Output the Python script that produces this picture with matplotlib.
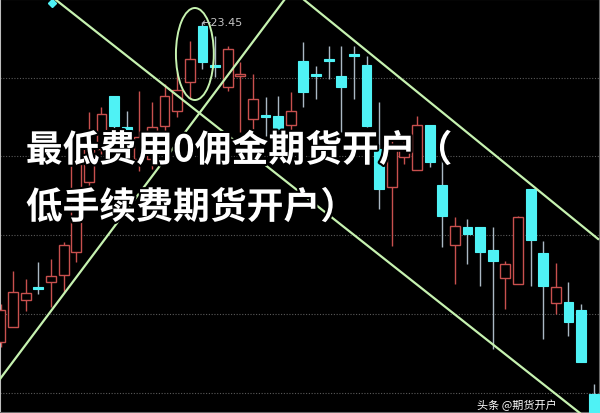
import numpy as np
import matplotlib
matplotlib.use("Agg")
import matplotlib.pyplot as plt
from matplotlib.patches import Ellipse
import matplotlib.patheffects as pe

# daily candles (price scale anchored on the 23.45 high)
opens = [20.25, 20.40, 20.67, 20.80, 20.85, 20.92, 21.15, 21.85, 22.18, 22.71,
         22.40, 22.08, 22.08, 22.41, 22.56, 22.85, 23.41, 23.02, 22.80, 22.91,
         22.48, 22.52, 22.51, 22.42, 23.06, 22.93, 23.08, 22.91, 23.13, 23.02,
         22.18, 21.80, 22.10, 21.97, 22.42, 21.82, 21.22, 21.40, 21.40, 21.17,
         20.89, 20.83, 21.78, 21.14, 20.64, 20.65, 20.57, 19.73]
closes = [20.57, 20.75, 20.74, 20.78, 20.91, 21.22, 22.03, 22.23, 22.53, 22.41,
          22.28, 22.30, 22.40, 22.71, 22.77, 23.08, 23.05, 23.00, 23.18, 22.93,
          22.68, 22.50, 22.38, 22.56, 22.75, 22.91, 23.06, 22.80, 23.11, 22.41,
          21.78, 22.20, 22.20, 22.42, 22.05, 21.51, 21.41, 21.33, 21.15, 21.06,
          21.03, 21.50, 21.27, 20.81, 20.80, 20.45, 20.05, 19.43]
highs = [20.63, 20.96, 20.88, 21.05, 21.08, 21.25, 22.18, 22.55, 22.60, 22.71,
         22.56, 22.76, 22.65, 22.83, 22.95, 23.26, 23.45, 23.31, 23.21, 23.05,
         22.93, 22.70, 22.71, 22.75, 23.25, 23.01, 23.21, 23.21, 23.21, 23.11,
         22.65, 22.28, 22.26, 22.51, 22.42, 22.13, 21.50, 21.48, 21.40, 21.40,
         21.06, 21.51, 21.78, 21.26, 21.04, 20.85, 20.63, 19.83]
lows = [20.20, 20.40, 20.56, 20.73, 20.60, 20.75, 21.05, 21.76, 22.13, 22.38,
        22.23, 21.96, 21.98, 22.33, 22.50, 22.68, 22.98, 22.90, 22.76, 22.35,
        22.38, 22.31, 22.35, 22.33, 22.60, 22.68, 22.88, 22.35, 22.68, 22.40,
        21.58, 21.21, 22.03, 21.97, 22.00, 21.20, 20.83, 21.03, 20.81, 20.18,
        20.58, 20.83, 20.81, 20.28, 20.53, 20.31, 20.05, 19.43]

grid_levels = [22.89, 22.11, 21.32, 20.53, 19.74]

# hand drawn trend lines: (index, price) end points
line_down_low = [(4.3, 23.68), (45.9, 19.54)]
line_up = [(-0.04, 19.88), (22.54, 23.68)]
line_down_high = [(23.97, 23.68), (47.35, 21.28)]
circle_center = (15.4, 23.13)
high_label = "23.45"

title1 = "最低费用0佣金期货开户（"
title2 = "低手续费期货开户）"
watermark = "头条 @期货开户"

red = "#c8504e"
cyan = "#4ff2f5"
green = "#c6f2b0"

fig = plt.figure(figsize=(6, 4.14), dpi=100, facecolor="black")
ax = fig.add_axes([0, 0, 1, 1])
ax.set_facecolor("black")
ax.set_xlim(-0.04, 47.5)
ax.set_ylim(19.54, 23.68)
ax.set_xticks([])
ax.set_yticks([])
for side, sp in ax.spines.items():
    sp.set_color("#bdbdbd" if side == "left" else "#6a6a6a")
    sp.set_linewidth(1.5)

for g in grid_levels:
    ax.axhline(g, color="#5a5a5a", lw=0.8, ls=(0, (1, 1.5)), zorder=1)

o = np.array(opens)
c = np.array(closes)
h = np.array(highs)
l = np.array(lows)
idx = np.arange(len(o))
up = c > o

ax.vlines(idx[up], l[up], h[up], color=red, lw=1, zorder=2)
ax.vlines(idx[~up], l[~up], h[~up], color="#aab8c4", lw=1, zorder=2)

body_lo = np.minimum(o, c)
body_h = np.maximum(np.abs(c - o), 0.02)
ax.bar(idx[up], body_h[up], bottom=body_lo[up], width=0.78,
       facecolor="black", edgecolor=red, lw=1, zorder=3)
ax.bar(idx[~up], body_h[~up], bottom=body_lo[~up], width=0.78,
       facecolor=cyan, edgecolor=cyan, lw=0.8, zorder=3)

for seg in (line_down_low, line_up, line_down_high):
    xs, ys = zip(*seg)
    ax.plot(xs, ys, color=green, lw=1.6, zorder=4)

ax.add_patch(Ellipse(circle_center, 3.0, 0.92, fill=False,
                     edgecolor=green, lw=1.4, zorder=4))

ax.text(15.95, 23.45, "\u2190" + high_label, color="#c4c4c4", fontsize=8,
        va="center", ha="left", zorder=5)
ax.plot([4.08], [23.64], marker="D", ms=4, color=cyan, zorder=5)

stroke = [pe.withStroke(linewidth=3, foreground="black")]
fam = ["Noto Sans CJK SC", "DejaVu Sans"]
fig.text(0.043, 0.633, title1, color="white", fontsize=26.5, fontweight="bold",
         family=fam, va="center", ha="left", path_effects=stroke)
fig.text(0.043, 0.495, title2, color="white", fontsize=26.5, fontweight="bold",
         family=fam, va="center", ha="left", path_effects=stroke)
fig.text(0.795, 0.006, watermark, color="white", fontsize=8, family=fam,
         va="bottom", ha="left", zorder=6)

fig.savefig("out.png", dpi=100, facecolor="black")
